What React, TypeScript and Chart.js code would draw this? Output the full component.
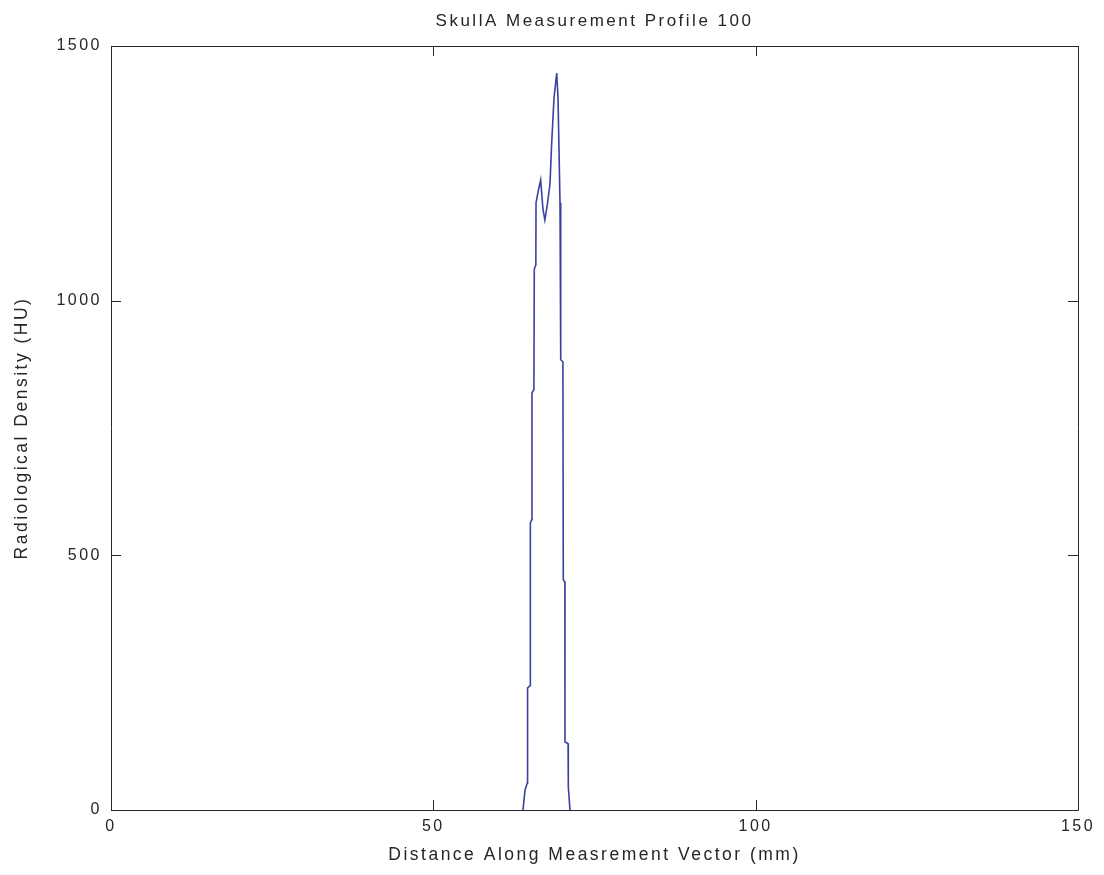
import React, { useEffect, useRef } from "react";
import { Chart, registerables } from "chart.js";

Chart.register(...registerables);

// Density profile along the measurement vector
const distanceMm = [
  63.91, 64.22, 64.57, 64.62, 65.0, 65.05, 65.25, 65.3, 65.6, 65.66, 65.9, 65.93,
  66.3, 66.65, 67.0, 67.3, 67.7, 68.1, 68.36, 68.72, 69.14, 69.34, 69.65, 69.76,
  70.1, 70.16, 70.4, 70.42, 70.9, 70.94, 71.2,
];
const densityHu = [
  0, 39, 53, 240, 244, 563, 570, 819, 825, 1062, 1070, 1192,
  1217, 1237, 1180, 1158, 1190, 1230, 1310, 1398, 1447, 1398, 1192, 884,
  880, 452, 448, 134, 130, 45, 0,
];

const xTicks = [0, 50, 100, 150];
const yTicks = [0, 500, 1000, 1500];

const FONT = "'Liberation Sans', Arial, sans-serif";
const INK = "#262626";

// Box frame with inward tick marks on all four sides
const frameTicks = {
  id: "frameTicks",
  beforeDraw(chart: any) {
    chart.ctx.letterSpacing = "2.5px";
  },
  afterDraw(chart: any) {
    const { ctx, chartArea: a, scales } = chart;
    const tl = 10;
    ctx.save();
    ctx.strokeStyle = INK;
    ctx.lineWidth = 1;
    ctx.beginPath();
    ctx.rect(Math.round(a.left) + 0.5, Math.round(a.top) + 0.5, Math.round(a.right - a.left), Math.round(a.bottom - a.top));
    for (const v of xTicks) {
      const px = Math.round(scales.x.getPixelForValue(v)) + 0.5;
      ctx.moveTo(px, a.bottom);
      ctx.lineTo(px, a.bottom - tl);
      ctx.moveTo(px, a.top);
      ctx.lineTo(px, a.top + tl);
    }
    for (const v of yTicks) {
      const py = Math.round(scales.y.getPixelForValue(v)) + 0.5;
      ctx.moveTo(a.left, py);
      ctx.lineTo(a.left + tl, py);
      ctx.moveTo(a.right, py);
      ctx.lineTo(a.right - tl, py);
    }
    ctx.stroke();
    ctx.restore();
  },
};

export default function App() {
  const ref = useRef<HTMLCanvasElement>(null);

  useEffect(() => {
    const points = distanceMm.map((x, i) => ({ x, y: densityHu[i] }));
    const chart = new Chart(ref.current as HTMLCanvasElement, {
      type: "line",
      data: {
        datasets: [
          {
            data: points,
            borderColor: "#3c41a0",
            borderWidth: 1.6,
            pointRadius: 0,
            tension: 0,
            fill: false,
          },
        ],
      },
      options: {
        animation: false,
        responsive: false,
        layout: { padding: { left: 0, right: 26, top: 0, bottom: 0 } },
        plugins: {
          legend: { display: false },
          tooltip: { enabled: false },
          title: {
            display: true,
            text: "SkullA Measurement Profile 100",
            fullSize: false,
            color: INK,
            font: { family: FONT, size: 17, weight: "normal" },
            padding: { top: 10.8, bottom: 14.8 },
          },
        },
        scales: {
          x: {
            type: "linear",
            min: 0,
            max: 150,
            afterFit(scale: any) {
              scale.height = 65;
            },
            afterBuildTicks(scale: any) {
              scale.ticks = xTicks.map((v) => ({ value: v }));
            },
            grid: { display: false, drawTicks: false },
            border: { display: false },
            ticks: {
              color: INK,
              padding: 7,
              maxRotation: 0,
              font: { family: FONT, size: 16 },
              callback: (v: any) => String(v),
            },
            title: {
              display: true,
              text: "Distance Along Measrement Vector (mm)",
              color: INK,
              font: { family: FONT, size: 17.5 },
              padding: { top: 0, bottom: 9.5 },
            },
          },
          y: {
            type: "linear",
            min: 0,
            max: 1500,
            afterFit(scale: any) {
              scale.width = 111;
            },
            afterBuildTicks(scale: any) {
              scale.ticks = yTicks.map((v) => ({ value: v }));
            },
            grid: { display: false, drawTicks: false },
            border: { display: false },
            ticks: {
              color: INK,
              padding: 9,
              font: { family: FONT, size: 16 },
              callback: (v: any) => String(v),
            },
            title: {
              display: true,
              text: "Radiological Density (HU)",
              color: INK,
              font: { family: FONT, size: 17.5 },
              padding: { top: 11.5, bottom: 0 },
            },
          },
        },
      },
      plugins: [frameTicks],
    });
    return () => chart.destroy();
  }, []);

  return (
    <div style={{ position: "fixed", left: 0, top: 0, width: 1104, height: 875, background: "#ffffff" }}>
      <canvas ref={ref} width={1104} height={875} style={{ display: "block" }} />
    </div>
  );
}
